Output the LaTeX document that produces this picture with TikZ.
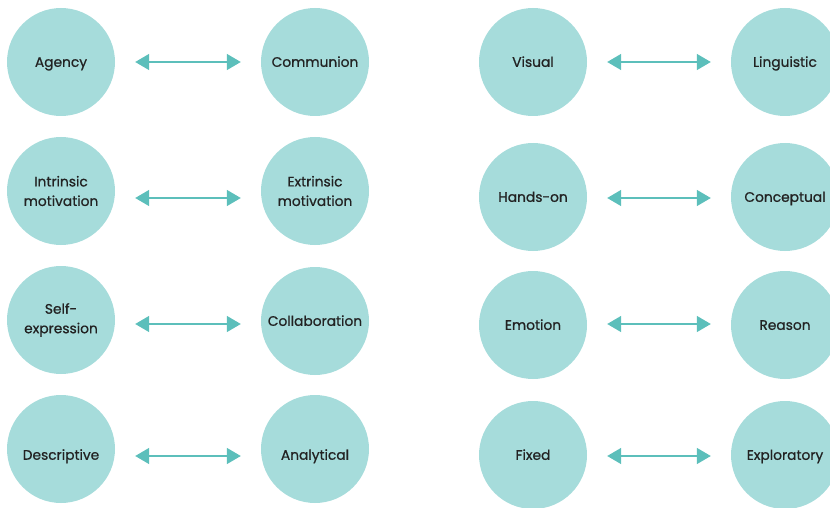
\documentclass[tikz,border=0pt]{standalone}
\usepackage{fontspec}
\setmainfont{Poppins}
\newfontfamily\medfont{Poppins}[FakeBold=0.8]
\usetikzlibrary{arrows.meta}
\definecolor{circfill}{HTML}{A6DCDB}
\definecolor{arrcol}{HTML}{5CBFBB}
\definecolor{txtcol}{HTML}{222222}
\tikzset{
  bubble/.style={circle, fill=circfill, minimum size=108pt, inner sep=0pt,
    text=txtcol, font=\medfont\fontsize{13.8}{19.5}\selectfont, align=center},
  oneline/.style={text height=#1, text depth=0pt},
  oneline/.default=9.7pt,
  biarrow/.style={draw=arrcol, line width=1.5pt,
    {Triangle[length=14pt,width=16pt]}-{Triangle[length=14pt,width=16pt]},
    shorten <=20pt, shorten >=20pt}
}
\begin{document}
\begin{tikzpicture}[x=1pt,y=-1pt]
\useasboundingbox (0,0) rectangle (830,508);
\clip (0,0) rectangle (830,508);
% left block
\node[bubble, oneline] (a1) at (61,62) {Agency};
\node[bubble, oneline] (b1) at (315,62) {Communion};
\node[bubble] (a2) at (61,191) {Intrinsic\\motivation};
\node[bubble] (b2) at (315,191) {Extrinsic\\motivation};
\node[bubble] (a3) at (61,320) {Self-\\expression};
\node[bubble, oneline] (b3) at (315,321) {Collaboration};
\node[bubble, oneline=21.5pt] (a4) at (61,449) {Descriptive};
\node[bubble, oneline=21.5pt] (b4) at (315,449) {Analytical};
% right block
\node[bubble, oneline] (c1) at (533,62) {Visual};
\node[bubble, oneline] (d1) at (785,62) {Linguistic};
\node[bubble, oneline] (c2) at (533,197) {Hands-on};
\node[bubble, oneline] (d2) at (785,197) {Conceptual};
\node[bubble, oneline] (c3) at (533,325) {Emotion};
\node[bubble, oneline] (d3) at (785,325) {Reason};
\node[bubble, oneline] (c4) at (533,455) {Fixed};
\node[bubble, oneline] (d4) at (785,455) {Exploratory};
% arrows
\draw[biarrow] (a1.east) -- (b1.west);
\draw[biarrow] ([yshift=-7pt]a2.east) -- ([yshift=-7pt]b2.west);
\draw[biarrow] ([yshift=-4pt]a3.east) -- ([yshift=-3pt]b3.west);
\draw[biarrow] ([yshift=-7pt]a4.east) -- ([yshift=-7pt]b4.west);
\draw[biarrow] (c1.east) -- (d1.west);
\draw[biarrow] ([yshift=-1pt]c2.east) -- ([yshift=-1pt]d2.west);
\draw[biarrow] ([yshift=1pt]c3.east) -- ([yshift=1pt]d3.west);
\draw[biarrow] ([yshift=-1pt]c4.east) -- ([yshift=-1pt]d4.west);
\end{tikzpicture}
\end{document}
